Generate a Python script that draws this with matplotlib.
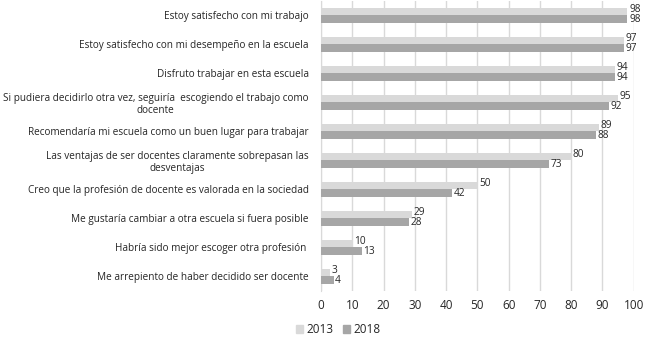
import numpy as np
import matplotlib
matplotlib.use('Agg')
import matplotlib.pyplot as plt
from matplotlib.patches import Patch

plt.rcParams['font.family'] = ['Open Sans', 'DejaVu Sans']

# categorías (de arriba hacia abajo)
categories = [
    'Estoy satisfecho con mi trabajo',
    'Estoy satisfecho con mi desempeño en la escuela',
    'Disfruto trabajar en esta escuela',
    'Si pudiera decidirlo otra vez, seguiría  escogiendo el trabajo como\ndocente',
    'Recomendaría mi escuela como un buen lugar para trabajar',
    'Las ventajas de ser docentes claramente sobrepasan las\ndesventajas',
    'Creo que la profesión de docente es valorada en la sociedad',
    'Me gustaría cambiar a otra escuela si fuera posible',
    'Habría sido mejor escoger otra profesión ',
    'Me arrepiento de haber decidido ser docente',
]
values_2013 = [98, 97, 94, 95, 89, 80, 50, 29, 10, 3]
values_2018 = [98, 97, 94, 92, 88, 73, 42, 28, 13, 4]
xticks = [0, 10, 20, 30, 40, 50, 60, 70, 80, 90, 100]

c2013 = '#d9d9d9'
c2018 = '#a6a6a6'
txt = '#262626'

fig = plt.figure(figsize=(6.5, 3.4), dpi=100)
ax = fig.add_axes([0.494, 0.145, 0.481, 0.853])

y = np.arange(len(categories))
h = 0.26
ax.barh(y - h / 2, values_2013, height=h, color=c2013, zorder=3)
ax.barh(y + h / 2, values_2018, height=h, color=c2018, zorder=3)

# etiquetas de valores
for yi, v1, v2 in zip(y, values_2013, values_2018):
    ax.text(v1 + 0.5, yi - h / 2 - 0.07, str(v1), ha='left', va='center', fontsize=7.3, color=txt)
    ax.text(v2 + 0.5, yi + h / 2 + 0.02, str(v2), ha='left', va='center', fontsize=7.3, color=txt)

ax.set_ylim(len(categories) - 0.5, -0.5)
ax.set_xlim(0, 100)
ax.set_xticks(xticks)
ax.set_yticks(y)
ax.set_yticklabels(categories, fontsize=7.2, color=txt, ha='right', multialignment='center')
ax.tick_params(axis='x', labelsize=8.5, colors=txt, length=0, pad=6)
ax.tick_params(axis='y', length=0, pad=9)
ax.xaxis.grid(True, color='#d9d9d9', linewidth=1, zorder=0)
for s in ['top', 'right', 'bottom']:
    ax.spines[s].set_visible(False)
ax.spines['left'].set_color('#d9d9d9')

handles = [Patch(color=c2013, label='2013'), Patch(color=c2018, label='2018')]
fig.legend(handles=handles, loc='center', bbox_to_anchor=(0.52, 0.03), ncol=2,
           frameon=False, fontsize=8.5, handlelength=0.6, handleheight=0.6,
           handletextpad=0.3, columnspacing=0.8, labelcolor=txt)

fig.savefig('out.png', dpi=100)
